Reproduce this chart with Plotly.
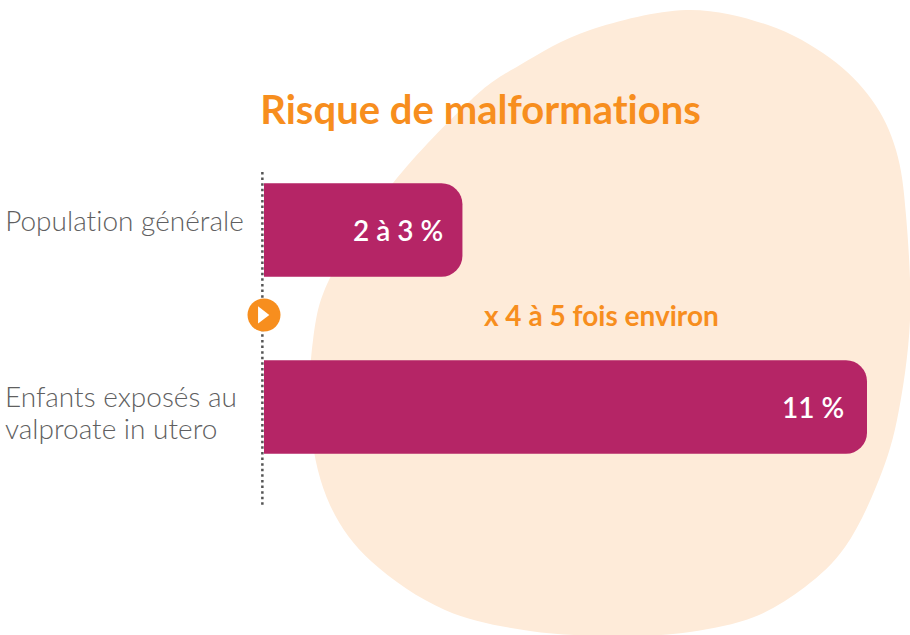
import plotly.graph_objects as go

category_lines = [["Population générale"], ["Enfants exposés au", "valproate in utero"]]
bar_values = [3.62, 11]
bar_labels = ["2 à 3 %", "11 %"]
title_text = "Risque de malformations"
ratio_text = "x 4 à 5 fois environ"

W, H = 910, 635
BLOB = [(686,10),(768,25),(830,58),(872,100),(896,150),(906,215),(910,320),(897,420),(876,487),
        (845,547),(805,587),(754,617),(690,632),(620,636),(530,631),(445,610),(372,562),(330,505),
        (311,430),(313,340),(332,274),(393,183),(471,100),(520,65),(590,30)]

def px(x): return x / W
def py(y): return 1 - y / H

def smooth(points):
    n = len(points)
    d = f"M {px(points[0][0]):.4f},{py(points[0][1]):.4f}"
    for i in range(n):
        p0, p1, p2, p3 = points[i-1], points[i], points[(i+1)%n], points[(i+2)%n]
        c1 = (p1[0]+(p2[0]-p0[0])/6, p1[1]+(p2[1]-p0[1])/6)
        c2 = (p2[0]-(p3[0]-p1[0])/6, p2[1]-(p3[1]-p1[1])/6)
        d += f" C {px(c1[0]):.4f},{py(c1[1]):.4f} {px(c2[0]):.4f},{py(c2[1]):.4f} {px(p2[0]):.4f},{py(p2[1]):.4f}"
    return d + " Z"

PX_PER_UNIT = 603 / 11
BAR_STEP = 177
ORANGE = "#F78E1E"
GREY = "#5F5F61"
FONT = "Lato"

fig = go.Figure()
fig.add_trace(go.Scatter(
    x=[-0.03, -0.03], y=[-0.328, 1.553], mode="lines",
    line=dict(color="#555555", width=2.5, dash="2.5px 3.1px"), hoverinfo="skip",
))
fig.add_trace(go.Bar(
    y=[0, 1], x=bar_values, orientation="h", width=93.5 / BAR_STEP,
    marker=dict(color="#B52566", line=dict(width=0)), hoverinfo="skip",
))
fig.add_trace(go.Scatter(
    x=[0], y=[0.48], mode="markers",
    marker=dict(color=ORANGE, size=33, line=dict(width=0)), hoverinfo="skip",
))
fig.add_trace(go.Scatter(
    x=[-0.04], y=[0.48], mode="markers",
    marker=dict(color="white", size=15, symbol="triangle-right", line=dict(width=0)), hoverinfo="skip",
))

annotations = [
    dict(text=title_text, xref="paper", yref="paper", x=px(258), y=py(109), xanchor="left", yanchor="middle",
         showarrow=False, font=dict(family=FONT, size=40, color=ORANGE, weight=700)),
    dict(text=ratio_text, xref="paper", yref="paper", x=px(601), y=py(314.5), xanchor="center", yanchor="middle",
         showarrow=False, font=dict(family=FONT, size=28, color=ORANGE, weight=700)),
]
label_shift = [-17, -21]
for i, (val, lab) in enumerate(zip(bar_values, bar_labels)):
    annotations.append(dict(text=lab, xref="x", yref="y", x=val, y=i, xanchor="right", yanchor="middle",
                            xshift=label_shift[i], showarrow=False,
                            font=dict(family=FONT, size=28, color="white", weight=600)))
label_y = {0: [220.5], 1: [396, 428]}
for i, lines in enumerate(category_lines):
    for line, yy in zip(lines, label_y[i]):
        annotations.append(dict(text=line, xref="paper", yref="paper", x=px(2.5), y=py(yy), xanchor="left",
                                yanchor="middle", showarrow=False,
                                font=dict(family=FONT, size=28, color=GREY, weight=300)))

fig.update_layout(
    width=W, height=H, margin=dict(l=0, r=0, t=0, b=0), autosize=False,
    paper_bgcolor="white", plot_bgcolor="rgba(0,0,0,0)", showlegend=False,
    barcornerradius=21,
    xaxis=dict(range=[-264 / PX_PER_UNIT, (W - 264) / PX_PER_UNIT], visible=False, domain=[0, 1]),
    yaxis=dict(range=[(H - 230) / BAR_STEP, -230 / BAR_STEP], visible=False, domain=[0, 1]),
    shapes=[dict(type="path", xref="paper", yref="paper", path=smooth(BLOB),
                 fillcolor="#FEEBD9", line=dict(width=0), layer="below")],
    annotations=annotations,
)
post = """
document.body.style.margin = '0';
document.documentElement.style.overflow = 'hidden';
var s = document.createElement('style');
s.textContent = 'svg text { letter-spacing: 0.01px; font-variant-ligatures: none; font-feature-settings: "liga" 0, "clig" 0, "dlig" 0, "calt" 0; }';
document.head.appendChild(s);
"""
fig.write_html("out.html", config=dict(displayModeBar=False), post_script=post)
